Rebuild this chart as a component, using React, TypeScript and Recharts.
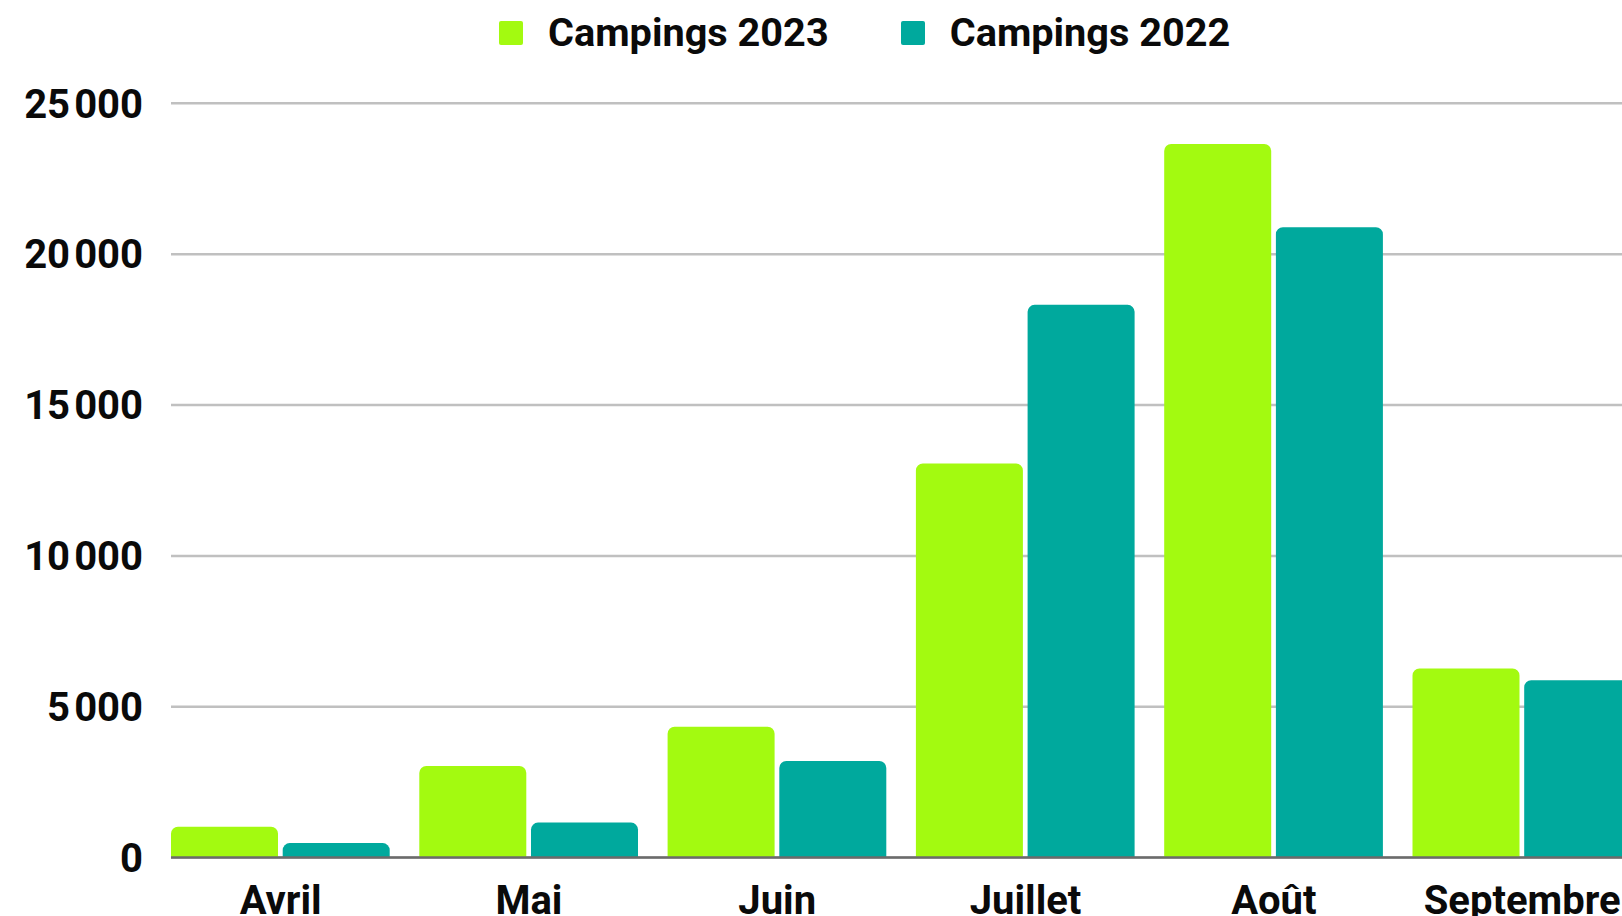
import React from 'react';
import { BarChart, Bar, XAxis, YAxis, CartesianGrid, Legend } from 'recharts';

const months = ['Avril', 'Mai', 'Juin', 'Juillet', 'Août', 'Septembre'];
const campings2023 = [1020, 3040, 4340, 13060, 23650, 6270];
const campings2022 = [480, 1160, 3200, 18320, 20890, 5880];
const yTicks = [0, 5000, 10000, 15000, 20000, 25000];
const yTickLabels = ['0', '5\u200A000', '10\u200A000', '15\u200A000', '20\u200A000', '25\u200A000'];
const seriesNames = ['Campings 2023', 'Campings 2022'];
const seriesColors = ['#a3fa10', '#00a99d'];

const data = months.map((m, i) => ({ month: m, c2023: campings2023[i], c2022: campings2022[i] }));

const FONT = 'Roboto, "Liberation Sans", Arial, sans-serif';

const LegendContent = () => (
  <div style={{ display: 'flex', alignItems: 'center', height: 66, paddingLeft: 499, boxSizing: 'border-box' }}>
    {seriesNames.map((n, i) => (
      <div key={n} style={{ display: 'flex', alignItems: 'center', marginRight: 72 }}>
        <div style={{ width: 24, height: 24, background: seriesColors[i], borderRadius: 2, marginRight: 25 }} />
        <span style={{ fontFamily: FONT, fontWeight: 700, fontSize: 39.7, color: '#0a0a0a', whiteSpace: 'nowrap', lineHeight: '40px' }}>{n}</span>
      </div>
    ))}
  </div>
);

const tickStyle = { fontFamily: FONT, fontWeight: 700, fontSize: 40, fill: '#0a0a0a' };

export default function App() {
  return (
    <div style={{ width: 1622, height: 916, overflow: 'hidden', position: 'relative', background: '#fff' }}>
      <style>{`body{margin:0}`}</style>
      <BarChart
        width={1660}
        height={960}
        data={data}
        margin={{ top: 103.3, right: 0, bottom: 0, left: 0 }}
        barCategoryGap={14.5}
        barGap={4.7}
      >
        <CartesianGrid vertical={false} stroke="#c0c0c0" strokeWidth={2.5} />
        <XAxis
          dataKey="month"
          height={102.4}
          padding={{ left: -14.5, right: 13.7 }}
          axisLine={{ stroke: '#6b6b6b', strokeWidth: 2.5 }}
          tickLine={false}
          tickSize={6}
          tickMargin={22}
          interval={0}
          tick={tickStyle}
        />
        <YAxis
          width={171}
          domain={[0, 25000]}
          ticks={yTicks}
          interval={0}
          tickFormatter={(v: number) => yTickLabels[yTicks.indexOf(v)] ?? String(v)}
          axisLine={false}
          tickLine={false}
          tickSize={6}
          tickMargin={22}
          tick={tickStyle}
        />
        <Legend
          layout="horizontal"
          verticalAlign="middle"
          align="center"
          wrapperStyle={{ top: 0, left: 0, width: 1622, height: 66 }}
          content={<LegendContent />}
        />
        <Bar dataKey="c2023" name={seriesNames[0]} fill={seriesColors[0]} radius={[7, 7, 0, 0]} isAnimationActive={false} />
        <Bar dataKey="c2022" name={seriesNames[1]} fill={seriesColors[1]} radius={[7, 7, 0, 0]} isAnimationActive={false} />
      </BarChart>
    </div>
  );
}
